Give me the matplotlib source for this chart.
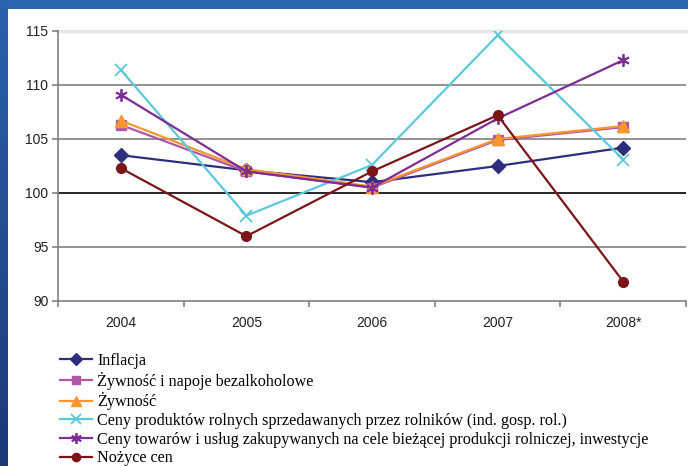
import matplotlib
matplotlib.use("Agg")
import matplotlib.pyplot as plt
import numpy as np

years = ["2004", "2005", "2006", "2007", "2008*"]

inflacja = [103.5, 102.1, 101.0, 102.5, 104.2]
zywnosc_napoje = [106.3, 102.0, 100.5, 104.9, 106.1]
zywnosc = [106.7, 102.2, 100.6, 105.0, 106.2]
ceny_produktow = [111.4, 97.9, 102.6, 114.6, 103.1]
ceny_towarow = [109.1, 102.0, 100.5, 106.9, 112.3]
nozyce = [102.3, 96.0, 102.0, 107.2, 91.8]

series = [
    ("Inflacja", inflacja, "#2E2F7C", "D", 7, 1.6),
    ("Żywność i napoje bezalkoholowe", zywnosc_napoje, "#B056A8", "s", 7, 1.6),
    ("Żywność", zywnosc, "#F7962F", "^", 8, 1.6),
    ("Ceny produktów rolnych sprzedawanych przez rolników (ind. gosp. rol.)",
     ceny_produktow, "#5CC8DC", "x", 8, 1.6),
    ("Ceny towarów i usług zakupywanych na cele bieżącej produkcji rolniczej, inwestycje",
     ceny_towarow, "#7E2D95", (6, 2, 0), 9, 1.6),
    ("Nożyce cen", nozyce, "#7B1518", "o", 7, 1.6),
]

W, H = 688, 466
fig = plt.figure(figsize=(W / 100, H / 100), dpi=100)
fig.patch.set_facecolor("white")

# slide frame: blue bar on top and a darker gradient band on the left
top = fig.add_axes([0, 1 - 9 / H, 1, 9 / H])
top.set_axis_off()
top.add_patch(plt.Rectangle((0, 0), 1, 1, color="#2C66B0", transform=top.transAxes))
left = fig.add_axes([0, 0, 7 / W, 1])
left.set_axis_off()
grad = np.linspace(0, 1, 256).reshape(-1, 1)
cmap = matplotlib.colors.LinearSegmentedColormap.from_list("band", ["#1C3877", "#2A62AD"])
left.imshow(grad, aspect="auto", cmap=cmap, origin="lower", extent=[0, 1, 0, 1])

ax = fig.add_axes([58 / W, 1 - 301 / H, 628 / W, 270 / H])
x = np.arange(len(years))
for label, vals, color, marker, ms, lw in series:
    ax.plot(x, vals, color=color, lw=lw, marker=marker, markersize=ms,
            markeredgewidth=1.3 if marker in ("x", (6, 2, 0)) else 1.0,
            markerfacecolor=color, markeredgecolor=color, label=label,
            solid_joinstyle="round")

ax.set_xlim(-0.5, len(years) - 0.5)
ax.set_ylim(90, 115)
ax.set_yticks(np.arange(90, 116, 5))
for yv in (95, 105, 110):
    ax.axhline(yv, color="#808080", lw=1.2, zorder=0)
ax.axhline(100, color="#000000", lw=1.2, zorder=0)
ax.axhline(115, color="#E6E6E6", lw=2.5, zorder=0, clip_on=False)

ax.set_xticks(x)
ax.set_xticklabels(years)
ax.set_xticks(np.arange(-0.5, len(years), 1.0), minor=True)
ax.tick_params(axis="x", which="major", length=0, pad=11, labelsize=10, labelcolor="#222222")
ax.tick_params(axis="x", which="minor", length=4, color="#808080", width=1.2)
ax.tick_params(axis="y", length=4, color="#808080", width=1.2, labelsize=10,
               labelcolor="#222222", pad=3)
for lab in ax.get_xticklabels() + ax.get_yticklabels():
    lab.set_fontfamily("Liberation Sans")

for side in ("top", "right"):
    ax.spines[side].set_visible(False)
for side in ("left", "bottom"):
    ax.spines[side].set_color("#808080")
    ax.spines[side].set_linewidth(1.2)

handles, labels = ax.get_legend_handles_labels()
leg = fig.legend(handles, labels, loc="upper left",
                 bbox_to_anchor=(60 / W, 1 - 353 / H), frameon=False,
                 prop={"family": "Liberation Serif", "size": 11.6},
                 handlelength=2.0, handletextpad=0.3, labelspacing=0.165,
                 markerscale=0.85, borderpad=0, borderaxespad=0)

fig.savefig("out.png", dpi=100)
